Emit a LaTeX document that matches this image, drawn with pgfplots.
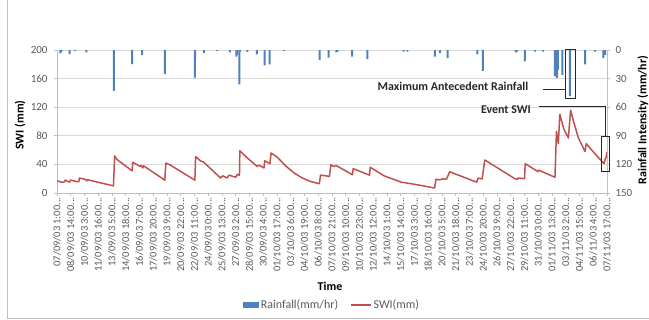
\documentclass[border=0pt]{standalone}
\usepackage{fontspec}
\setmainfont{Carlito}
\usepackage{pgfplots}
\pgfplotsset{compat=1.18}
\definecolor{rainblue}{RGB}{79,129,189}
\definecolor{swired}{RGB}{192,80,77}
\definecolor{gridgray}{RGB}{217,217,217}
\definecolor{axgray}{RGB}{191,191,191}
\definecolor{ticktext}{RGB}{89,89,89}
\newcommand{\dts}{.{}.{}.}
\begin{document}
\begin{tikzpicture}
\useasboundingbox (0bp,0bp) rectangle (649bp,320bp);
\draw[axgray, line width=0.8bp] (7bp,320bp) -- (7bp,2bp) -- (649bp,2bp);
\node[font=\bfseries\fontsize{12}{14}\selectfont, anchor=center] at (330bp,34bp) {Time};
\begin{axis}[
  at={(57bp,127bp)}, anchor=south west,
  scale only axis, width=550bp, height=143bp,
  xmin=0, xmax=1480, ymin=0, ymax=200,
  axis y line*=left, axis x line*=bottom,
  axis line style={axgray, line width=0.7bp},
  /pgf/number format/assume math mode=true,
  ytick={0,40,80,120,160,200},
  ymajorgrids, grid style={gridgray, line width=0.7bp},
  tick align=outside, major tick length=3bp,
  tick style={axgray, line width=0.6bp},
  xtick={0,37,74,111,148,185,222,259,296,333,370,407,444,481,518,555,592,629,666,703,740,777,814,851,888,925,962,999,1036,1073,1110,1147,1184,1221,1258,1295,1332,1369,1406,1443,1480},
  xticklabels={07/09/03 1:00\dts,08/09/03 14:00\dts,10/09/03 3:00\dts,11/09/03 16:00\dts,13/09/03 5:00\dts,14/09/03 18:00\dts,16/09/03 7:00\dts,17/09/03 20:00\dts,19/09/03 9:00\dts,20/09/03 22:00\dts,22/09/03 11:00\dts,24/09/03 0:00\dts,25/09/03 13:00\dts,27/09/03 2:00\dts,28/09/03 15:00\dts,30/09/03 4:00\dts,01/10/03 17:00\dts,03/10/03 6:00\dts,04/10/03 19:00\dts,06/10/03 8:00\dts,07/10/03 21:00\dts,09/10/03 10:00\dts,10/10/03 23:00\dts,12/10/03 12:00\dts,14/10/03 1:00\dts,15/10/03 14:00\dts,17/10/03 3:00\dts,18/10/03 16:00\dts,20/10/03 5:00\dts,21/10/03 18:00\dts,23/10/03 7:00\dts,24/10/03 20:00\dts,26/10/03 9:00\dts,27/10/03 22:00\dts,29/10/03 11:00\dts,31/10/03 0:00\dts,01/11/03 13:00\dts,03/11/03 2:00\dts,04/11/03 15:00\dts,06/11/03 4:00\dts,07/11/03 17:00\dts},
  xticklabel style={rotate=90, anchor=east, font=\fontsize{10.5}{12}\selectfont, text=ticktext, inner sep=1.5bp},
  yticklabel style={font=\fontsize{11}{13}\selectfont, text=ticktext, xshift=-3bp},
  ylabel={SWI (mm)},
  ylabel style={at={(axis description cs:-0.067,0.475)}, anchor=center, font=\bfseries\fontsize{12}{14}\selectfont},
]
\addplot[swired, line width=1.5bp, line join=round] coordinates {
(0,17)(13,15)(20,15.5)(22,18)(31,15.5)(35,15.5)(36,18)(53,16)(59,16)(60,21)(76,19)(80,17)(82,18.5)
(152,10)(155,52)(161,47)(202,31)(204,43)(224,37)(227,38.5)(231,35)(233,38)(290,18)(293,42)(305,39)
(371,18)(373,51)(386,45)(395,43)(440,21)(446,24)(458,21)(463,25)(481,22)(485,26)(491,25)(492,59)
(512,49)(539,37)(543,39)(557,35)(559,45)(566,43)(573,41)(576,56)(593,50)(615,38)(638,28)(660,21)
(683,16)(706,13)(709,25)(724,24)(733,23)(737,39.5)(745,37)(751,38.5)(795,25.5)(797,34)(841,25)
(843,36)(880,24)(926,15.2)(935,14.5)(975,11)(1016,7)(1020,19.3)(1030,18.4)(1038,19.8)(1048,19.3)
(1057,30)(1060,29)(1129,15.2)(1133,20.7)(1144,19.8)(1151,46)(1155,45)(1232,20)(1238,19)(1242,21)
(1258,20)(1260,41)(1294,30)(1296,32)(1340,22)(1344,86)(1349,69)(1353,110)(1364,89)(1376,77)
(1382,116)(1390,100)(1403,77)(1421,58)(1424,69)(1439,60)(1472,41)(1476,49)(1478,50)(1480,57)
};
\end{axis}
\begin{axis}[
  at={(57bp,127bp)}, anchor=south west,
  scale only axis, width=550bp, height=143bp,
  xmin=0, xmax=1480, ymin=0, ymax=150, y dir=reverse,
  axis y line*=right, axis x line=none,
  axis line style={axgray, line width=0.7bp},
  /pgf/number format/assume math mode=true,
  ytick={0,30,60,90,120,150},
  tick align=outside, major tick length=3bp,
  tick style={axgray, line width=0.6bp},
  yticklabel style={font=\fontsize{11}{13}\selectfont, text=ticktext, xshift=2bp},
  ylabel={Rainfall Intensity (mm/hr)},
  ylabel style={at={(axis description cs:1.065,0.51)}, anchor=center, font=\bfseries\fontsize{12}{14}\selectfont},
  legend columns=2,
  legend style={at={(axis description cs:0.5,-0.783)}, anchor=center, draw=none, fill=none,
    font=\fontsize{12}{14}\selectfont, text=ticktext,
    /tikz/every even column/.append style={column sep=10bp}},
]
\addplot[ybar, bar width=2bp, fill=rainblue, draw=none,
  legend image code/.code={\fill[rainblue] (0bp,-3bp) rectangle (16bp,3bp);}] coordinates {
(9,3.5)(12,2)(34,4.2)(49,1)(79,2.5)(153,43)(202,14.8)(229,5.3)(290,25.4)(371,29)(372,9)(395,3.2)
(431,1)(465,2.5)(483,7)(484,5)(491,36)(492,2)(512,2)(538,4.6)(559,16)(572,15)(611,1)(707,10.6)
(731,8)(752,2.4)(755,1.7)(794,7)(835,9.7)(933,1.7)(943,1.7)(1017,7)(1030,3.4)(1051,8.6)(1131,4.5)
(1146,22)(1235,2.4)(1238,1.7)(1259,12)(1286,1.7)(1308,1.7)(1340,27.6)(1346,29.3)(1348,20.7)
(1360,26)(1380,48.5)(1421,15)(1448,1.7)(1470,8.6)(1475,5)
};
\addlegendentry{Rainfall(mm/hr)}
\addlegendimage{legend image code/.code={\draw[swired, line width=1.5bp] (0bp,0bp) -- (20bp,0bp);}}
\addlegendentry{SWI(mm)}
\end{axis}
\begin{scope}[x=1bp, y=-1bp, shift={(0bp,320bp)}]
\draw[black!85, line width=1bp] (565,50) rectangle (575,99);
\draw[black!85, line width=1bp] (543,90) -- (565,90);
\node[font=\bfseries\fontsize{12}{14}\selectfont, text=black!85] at (453,86) {Maximum Antecedent Rainfall};
\draw[black!85, line width=1bp] (539,107) -- (605,107) -- (605,137);
\draw[black!85, line width=1bp] (601.5,137) rectangle (609,172);
\node[font=\bfseries\fontsize{12}{14}\selectfont, text=black!85] at (506,110) {Event SWI};
\end{scope}
\end{tikzpicture}
\end{document}
